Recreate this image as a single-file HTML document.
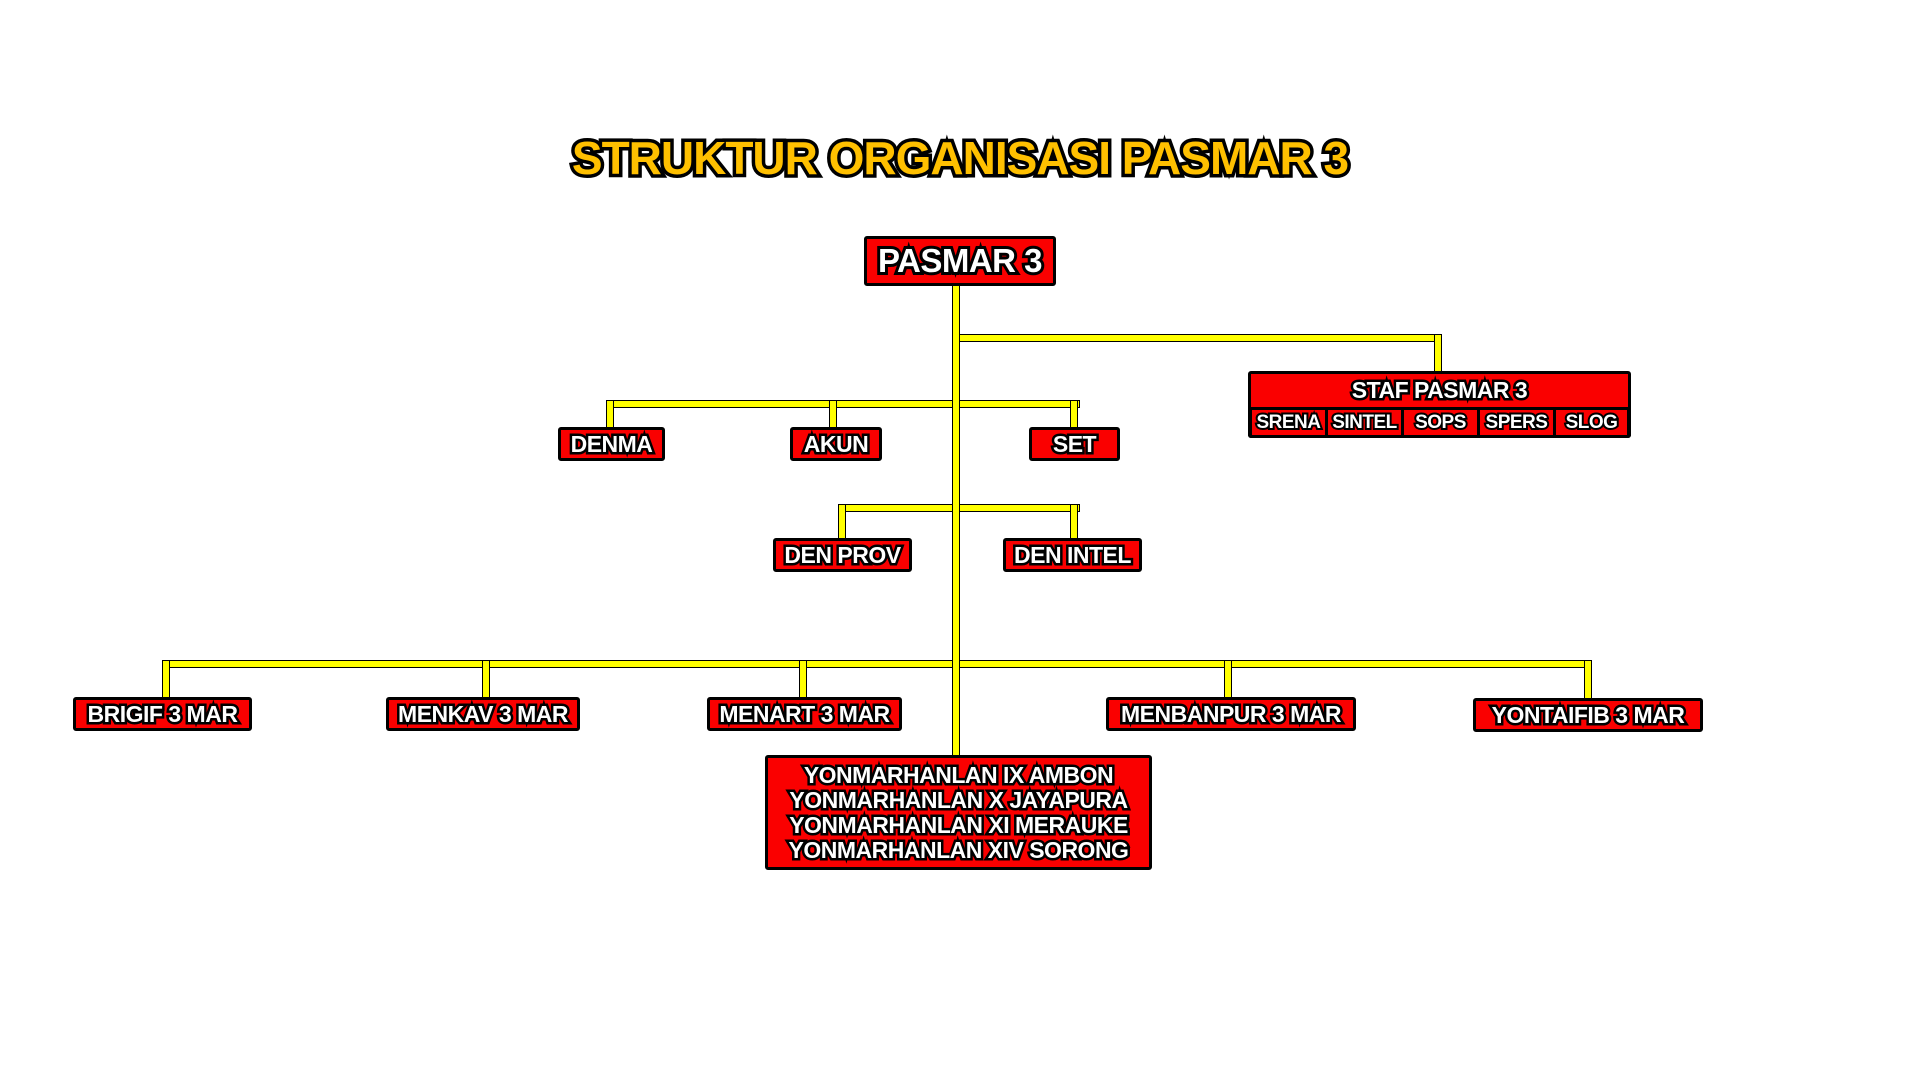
<!DOCTYPE html>
<html><head><meta charset="utf-8"><style>
body{margin:0;width:1920px;height:1080px;background:#fff;position:relative;overflow:hidden;font-family:"Liberation Sans",sans-serif;font-weight:bold}
.l{position:absolute;background:#ffff00;border:1.5px solid #000;box-sizing:border-box}
.b{position:absolute;background:#fa0000;border:3px solid #000;border-radius:3px;box-sizing:border-box;display:flex;align-items:center;justify-content:center;color:#fff;white-space:nowrap;font-size:23px;letter-spacing:-0.5px;-webkit-text-stroke:5px #000;paint-order:stroke fill}
.t{position:absolute;left:0;width:1920px;top:131px;text-align:center;font-size:46px;color:#ffc000;-webkit-text-stroke:7px #000;paint-order:stroke fill;letter-spacing:-1px}
.sub{position:absolute;top:408px;height:29px;border:2px solid #000;box-sizing:border-box;background:#fa0000;color:#fff;display:flex;align-items:center;justify-content:center;font-size:19px;-webkit-text-stroke:4px #000;paint-order:stroke fill;letter-spacing:-0.5px}
</style></head><body>
<div class="t">STRUKTUR ORGANISASI PASMAR 3</div>

<div class="l" style="left:952px;top:284px;width:8px;height:473px"></div>
<div class="l" style="left:956px;top:334px;width:486px;height:8px"></div>
<div class="l" style="left:1434px;top:334px;width:8px;height:39px"></div>
<div class="l" style="left:606px;top:400px;width:474px;height:8px"></div>
<div class="l" style="left:606px;top:400px;width:8px;height:29px"></div>
<div class="l" style="left:829px;top:400px;width:8px;height:29px"></div>
<div class="l" style="left:1070px;top:400px;width:8px;height:29px"></div>
<div class="l" style="left:838px;top:504px;width:242px;height:8px"></div>
<div class="l" style="left:838px;top:504px;width:8px;height:36px"></div>
<div class="l" style="left:1070px;top:504px;width:8px;height:36px"></div>
<div class="l" style="left:162px;top:660px;width:1430px;height:8px"></div>
<div class="l" style="left:162px;top:660px;width:8px;height:39px"></div>
<div class="l" style="left:482px;top:660px;width:8px;height:39px"></div>
<div class="l" style="left:799px;top:660px;width:8px;height:39px"></div>
<div class="l" style="left:1224px;top:660px;width:8px;height:39px"></div>
<div class="l" style="left:1584px;top:660px;width:8px;height:40px"></div>
<div class="l" style="left:952px;top:284px;width:8px;height:473px;border-top:none;border-bottom:none"></div>

<div class="b" style="left:864px;top:236px;width:192px;height:50px;font-size:33px;-webkit-text-stroke:6px #000">PASMAR 3</div>
<div class="b" style="left:1248px;top:371px;width:383px;height:39px;font-size:23px">STAF PASMAR 3</div>
<div style="position:absolute;left:1248px;top:406px;width:383px;height:32px;border:3px solid #000;border-top:none;border-radius:0 0 3px 3px;box-sizing:border-box"></div>
<div class="sub" style="left:1250px;width:77px">SRENA</div>
<div class="sub" style="left:1326px;width:77px">SINTEL</div>
<div class="sub" style="left:1402px;width:77px">SOPS</div>
<div class="sub" style="left:1478px;width:77px">SPERS</div>
<div class="sub" style="left:1554px;width:75px">SLOG</div>

<div class="b" style="left:558px;top:427px;width:107px;height:34px">DENMA</div>
<div class="b" style="left:790px;top:427px;width:92px;height:34px">AKUN</div>
<div class="b" style="left:1029px;top:427px;width:91px;height:34px">SET</div>
<div class="b" style="left:773px;top:538px;width:139px;height:34px">DEN PROV</div>
<div class="b" style="left:1003px;top:538px;width:139px;height:34px">DEN INTEL</div>

<div class="b" style="left:73px;top:697px;width:179px;height:34px">BRIGIF 3 MAR</div>
<div class="b" style="left:386px;top:697px;width:194px;height:34px">MENKAV 3 MAR</div>
<div class="b" style="left:707px;top:697px;width:195px;height:34px">MENART 3 MAR</div>
<div class="b" style="left:1106px;top:697px;width:250px;height:34px">MENBANPUR 3 MAR</div>
<div class="b" style="left:1473px;top:698px;width:230px;height:34px">YONTAIFIB 3 MAR</div>

<div class="b" style="left:765px;top:755px;width:387px;height:115px;flex-direction:column;line-height:25px;font-size:23px">
<div>YONMARHANLAN IX AMBON</div><div>YONMARHANLAN X JAYAPURA</div><div>YONMARHANLAN XI MERAUKE</div><div>YONMARHANLAN XIV SORONG</div></div>
</body></html>
